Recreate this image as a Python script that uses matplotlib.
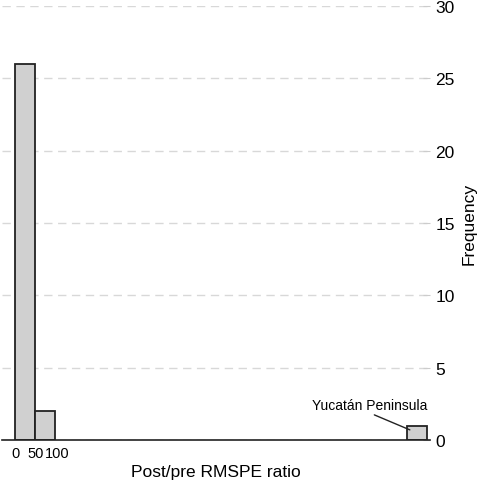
import matplotlib
matplotlib.use("Agg")
import matplotlib.pyplot as plt

plt.rcParams['font.family'] = ['Liberation Sans', 'DejaVu Sans']

# histogram bins (left edge, width) and counts
bin_left = [0, 47, 933]
bin_width = 47
counts = [26, 2, 1]
x_ticks = [0, 50, 100]
y_ticks = [0, 5, 10, 15, 20, 25, 30]
outlier_label = "Yucatán Peninsula"

fig = plt.figure(figsize=(4.84, 4.89), dpi=100)
ax = fig.add_axes([2/484, 48/489, 428/484, 434/489])

ax.bar(bin_left, counts, width=bin_width, align='edge', color='#d0d0d0',
       edgecolor='#222222', linewidth=1.3, zorder=3)

ax.set_xlim(-31, 988)
ax.set_ylim(0, 30)
ax.set_xticks(x_ticks)
ax.set_xticklabels([str(t) for t in x_ticks], fontsize=10.5)
ax.set_yticks(y_ticks)
ax.yaxis.tick_right()
ax.yaxis.set_label_position('right')
ax.tick_params(axis='y', direction='in', length=5, color='#cccccc', labelsize=12.5, pad=4)
ax.tick_params(axis='x', length=0, pad=4)
ax.yaxis.grid(True, linestyle=(0, (6, 4)), color='#d8d8d8', linewidth=1, zorder=0)
ax.set_axisbelow(True)

for s in ['top', 'left', 'right']:
    ax.spines[s].set_visible(False)
ax.spines['bottom'].set_color('#222222')
ax.spines['bottom'].set_linewidth(1.2)
ax.spines['bottom'].set_zorder(4)

ax.set_xlabel("Post/pre RMSPE ratio", fontsize=12.5, labelpad=3)
ax.set_ylabel("Frequency", fontsize=12.5, labelpad=5)

ax.annotate(outlier_label, xy=(940, 0.7), xytext=(845, 2.45),
            fontsize=10, ha='center', va='center',
            arrowprops=dict(arrowstyle='-', color='#222222', lw=1,
                            relpos=(0.47, 0), shrinkA=1, shrinkB=0))

fig.savefig("out.png", dpi=100)
